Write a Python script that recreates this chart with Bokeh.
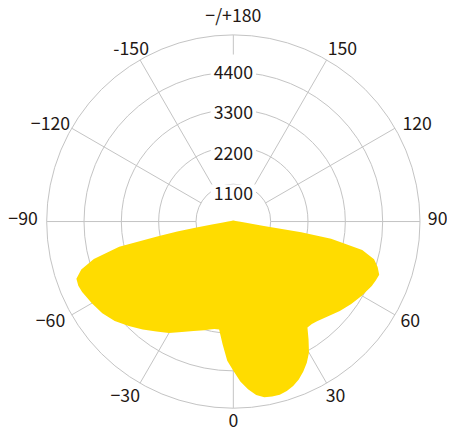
import numpy as np
from bokeh.plotting import figure
from bokeh.core.properties import value
from bokeh.embed import file_html
from bokeh.resources import INLINE

# ---- data (angle in degrees: 0 = straight down, positive = right) ----
angles_deg = [-180, -150, -120, -105, -90, -85, -82, -81, -80, -79, -77.5, -75,
              -72.5, -70, -67.5, -65, -60, -55, -50, -45, -40, -35, -30, -25,
              -20, -15, -12.5, -10, -7.5, -5, -2.5, 0, 2.5, 5, 7.5, 10, 12.5,
              15, 17.5, 20, 22.5, 25, 27.5, 30, 32.5, 35, 37.5, 40, 45, 50, 55,
              60, 65, 67.5, 70, 72.5, 75, 77.5, 80, 81, 82, 83, 85, 90, 105,
              120, 150, 180]
intensity_cd = [29, 32, 45, 72, 159, 307, 637, 1100, 1679, 2258, 3445, 4255,
                4698, 4921, 4944, 4915, 4814, 4713, 4562, 4357, 4154, 3951, 3792, 3590,
                3430, 3315, 3257, 3213, 3207, 3633, 4105, 4400, 4718, 4964, 5158, 5254, 5283,
                5286, 5239, 5153, 5037, 4878, 4689, 4458, 4125, 3807, 3801, 3836, 3951, 4096, 4241,
                4371, 4501, 4542, 4574, 4458, 4293, 3890, 2924, 2026, 868, 579, 336, 165, 72,
                45, 32, 29]

ring_values = [1100, 2200, 3300, 4400, 5500]
ring_labels = ["1100", "2200", "3300", "4400"]
spoke_angles = [-150, -120, -90, -60, -30, 0, 30, 60, 90, 120, 150, 180]
angle_labels = ["-150", "\u2212120", "\u221290", "\u221260", "\u221230", "0",
                "30", "60", "90", "120", "150", "\u2212/+180"]

# ---- layout / style ----
W, H = 447, 433
S = W / 455.0                      # overall scale of the drawing
R_MAX = 5500.0
R_PX = 190.0 * S                   # outer ring radius in px
CX, CY = 237 * S, 225 * S          # polar centre inside the canvas (px)
k = R_MAX / R_PX                   # cd per pixel
GRID = "#c4c4c4"
YELLOW = "#FFDC00"
TEXT = "#231815"
FONT = value("Noto Sans CJK SC")
FSIZE = "%.1fpx" % (18 * S)


def to_xy(theta, r):
    t = np.radians(np.asarray(theta, dtype=float))
    r = np.asarray(r, dtype=float)
    return r * np.sin(t), -r * np.cos(t)


p = figure(width=W, height=H,
           x_range=(-CX * k, (W - CX) * k),
           y_range=(-(H - CY) * k, CY * k),
           x_axis_type=None, y_axis_type=None,
           output_backend="svg", toolbar_location=None, min_border=0)
p.grid.visible = False
p.outline_line_color = None
p.background_fill_color = "white"
p.border_fill_color = "white"

# rings
p.circle(x=[0] * len(ring_values), y=[0] * len(ring_values), radius=ring_values,
         fill_color=None, line_color=GRID, line_width=1)

# spokes (the top one is only drawn outside the value labels)
x0s, y0s, x1s, y1s = [], [], [], []
for a in spoke_angles:
    r_in = ring_values[0] if a != 180 else 170 * S * k
    xa, ya = to_xy(a, r_in)
    xb, yb = to_xy(a, ring_values[-1])
    x0s.append(float(xa)); y0s.append(float(ya)); x1s.append(float(xb)); y1s.append(float(yb))
p.segment(x0=x0s, y0=y0s, x1=x1s, y1=y1s, line_color=GRID, line_width=1)

# intensity distribution
xs, ys = to_xy(angles_deg, intensity_cd)
p.patch(list(xs), list(ys), fill_color=YELLOW, line_color=None)

# radial value labels (stacked slightly wider than the rings)
lab_r = [(152 + (v - 4400) / 1100 * 41.3) * S * k for v in ring_values[:4]]
p.text(x=[0] * len(ring_labels), y=lab_r, text=ring_labels,
       text_align="center", text_baseline="middle", text_font=FONT,
       text_font_size=FSIZE, text_color=TEXT,
       background_fill_color="white", padding=3)

# angle labels
R_LAB = 208 * S
LAB_UP = 3 * S
lx, ly = [], []
for a, lab in zip(spoke_angles, angle_labels):
    t = np.radians(a)
    dx = R_LAB * np.sin(t)
    dy = R_LAB * np.cos(t) - LAB_UP          # screen px, downwards positive
    if lab.startswith("\u2212") and lab != "\u2212/+180":
        dx -= 6 * S
    if abs(a) in (120, 150):
        dy += 7 * S
        if a > 0:
            dx += 7 * S
    sy = min(max(CY + dy, 13), H - 13)
    lx.append(dx * k)
    ly.append((CY - sy) * k)
p.text(x=lx, y=ly, text=angle_labels, text_align="center", text_baseline="middle",
       text_font=FONT, text_font_size=FSIZE, text_color=TEXT)

open("out.html", "w").write(file_html(p, INLINE))
